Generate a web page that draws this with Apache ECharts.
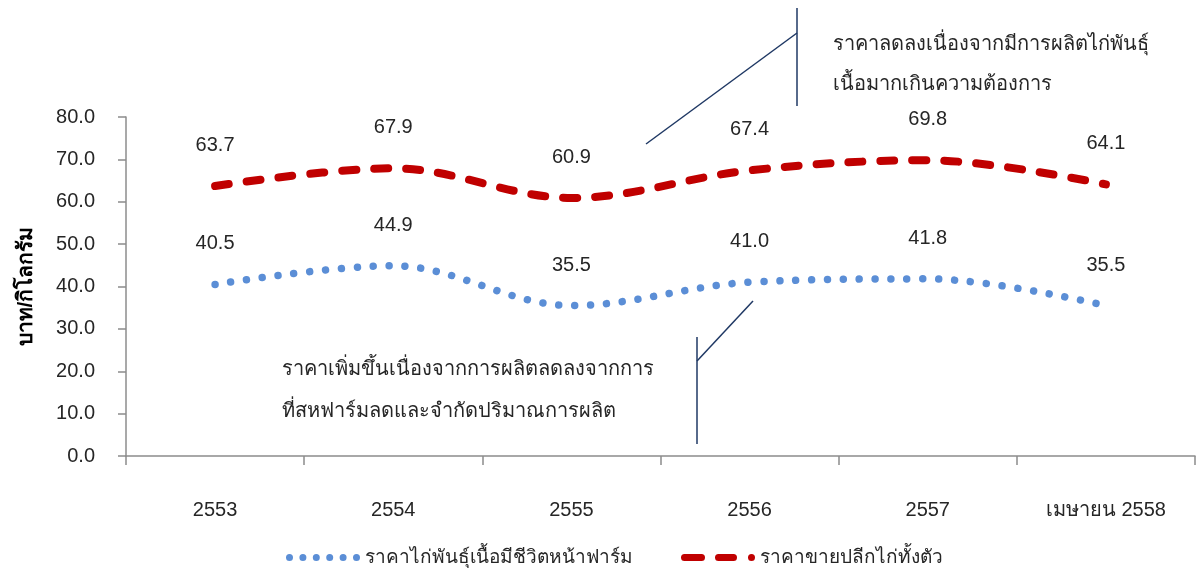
<!DOCTYPE html>
<html>
<head>
<meta charset="utf-8">
<script src="https://cdn.jsdelivr.net/npm/echarts@6/dist/echarts.min.js"></script>
<style>
html,body{margin:0;padding:0;background:#fff;}
#main{width:1198px;height:569px;}
</style>
</head>
<body>
<div id="main"></div>
<script>
const categories = ['2553', '2554', '2555', '2556', '2557', 'เมษายน 2558'];
const farmPrice = [40.5, 44.9, 35.5, 41.0, 41.8, 35.5];
const retailPrice = [63.7, 67.9, 60.9, 67.4, 69.8, 64.1];
const yTicks = { min: 0, max: 80, interval: 10 };
const seriesNames = ['ราคาไก่พันธุ์เนื้อมีชีวิตหน้าฟาร์ม', 'ราคาขายปลีกไก่ทั้งตัว'];
const yName = 'บาท/กิโลกรัม';
const note1 = ['ราคาลดลงเนื่องจากมีการผลิตไก่พันธุ์', 'เนื้อมากเกินความต้องการ'];
const note2 = ['ราคาเพิ่มขึ้นเนื่องจากการผลิตลดลงจากการ', 'ที่สหฟาร์มลดและจำกัดปริมาณการผลิต'];

const FONT = '"Liberation Sans", Arial, "Noto Sans", sans-serif';
const BLUE = '#5B8ED6';
const RED = '#C00000';
const chart = echarts.init(document.getElementById('main'));
const lineColor = '#1F3864';

function circ(cx, r) {
  return 'M' + (cx - r) + ',3.5 A' + r + ',' + r + ' 0 1,0 ' + (cx + r) + ',3.5 A' + r + ',' + r + ' 0 1,0 ' + (cx - r) + ',3.5 Z ';
}
function dash(x0, x1) {
  return 'M' + (x0 + 3.5) + ',0 L' + (x1 - 3.5) + ',0 A3.5,3.5 0 0,1 ' + (x1 - 3.5) + ',7 L' + (x0 + 3.5) + ',7 A3.5,3.5 0 0,1 ' + (x0 + 3.5) + ',0 Z ';
}
let bluePath = '';
for (let k = 0; k < 6; k++) bluePath += circ(3.5 + k * 13.4, 3.5);
const redPath = dash(0, 24) + dash(34, 56) + circ(70.5, 3.5);

const labelCfg = {
  show: true, position: 'top', distance: 30,
  color: '#262626', fontSize: 20, fontFamily: FONT,
  formatter: p => p.value.toFixed(1)
};

chart.setOption({
  animation: false,
  backgroundColor: '#fff',
  textStyle: { fontFamily: FONT },
  grid: { left: 126, right: 3, top: 117, bottom: 113, containLabel: false },
  xAxis: {
    type: 'category',
    data: categories,
    boundaryGap: true,
    axisLine: { lineStyle: { color: '#8c8c8c', width: 1.5 } },
    axisTick: { show: true, length: 9, lineStyle: { color: '#8c8c8c', width: 1.5 } },
    axisLabel: { margin: 44, fontSize: 20, color: '#262626', fontFamily: FONT }
  },
  yAxis: {
    type: 'value',
    min: yTicks.min, max: yTicks.max, interval: yTicks.interval,
    name: yName,
    nameLocation: 'middle',
    nameGap: 89,
    nameTextStyle: { fontSize: 21, fontWeight: 'bold', color: '#000', fontFamily: FONT },
    axisLine: { show: true, lineStyle: { color: '#8c8c8c', width: 1.5 } },
    axisTick: { show: true, length: 8, lineStyle: { color: '#8c8c8c', width: 1.5 } },
    splitLine: { show: false },
    axisLabel: { margin: 31, fontSize: 20, color: '#262626', fontFamily: FONT,
      formatter: v => v.toFixed(1) }
  },
  legend: {
    top: 543,
    left: 281,
    itemGap: 48,
    itemWidth: 74,
    itemHeight: 7,
    textStyle: { fontSize: 19, color: '#262626', fontFamily: FONT },
    data: [
      { name: seriesNames[0], icon: 'path://' + bluePath, itemStyle: { color: BLUE, borderWidth: 0 } },
      { name: seriesNames[1], icon: 'path://' + redPath, itemStyle: { color: RED, borderWidth: 0 } }
    ]
  },
  series: [
    {
      name: seriesNames[0],
      type: 'line',
      data: farmPrice,
      smooth: 0.35,
      symbol: 'circle',
      symbolSize: 1,
      itemStyle: { color: 'rgba(0,0,0,0)' },
      lineStyle: { color: BLUE, width: 7.5, type: [0.01, 15.9], cap: 'round' },
      label: labelCfg
    },
    {
      name: seriesNames[1],
      type: 'line',
      data: retailPrice,
      smooth: 0.35,
      symbol: 'circle',
      symbolSize: 1,
      itemStyle: { color: 'rgba(0,0,0,0)' },
      lineStyle: { color: RED, width: 8, type: [14, 18], cap: 'round' },
      label: labelCfg
    }
  ],
  graphic: [
    { type: 'line', shape: { x1: 797, y1: 8, x2: 797, y2: 106 }, style: { stroke: lineColor, lineWidth: 1.5 } },
    { type: 'line', shape: { x1: 797, y1: 33, x2: 646, y2: 144 }, style: { stroke: lineColor, lineWidth: 1.5 } },
    { type: 'text', left: 833, top: 34, style: { text: note1[0], fontSize: 20, fill: '#262626', fontFamily: FONT } },
    { type: 'text', left: 833, top: 74, style: { text: note1[1], fontSize: 20, fill: '#262626', fontFamily: FONT } },
    { type: 'line', shape: { x1: 697, y1: 337, x2: 697, y2: 444 }, style: { stroke: lineColor, lineWidth: 1.5 } },
    { type: 'line', shape: { x1: 697, y1: 361, x2: 753, y2: 301 }, style: { stroke: lineColor, lineWidth: 1.5 } },
    { type: 'text', left: 282, top: 359, style: { text: note2[0], fontSize: 20, fill: '#262626', fontFamily: FONT } },
    { type: 'text', left: 282, top: 401, style: { text: note2[1], fontSize: 20, fill: '#262626', fontFamily: FONT } }
  ]
});
</script>
</body>
</html>
